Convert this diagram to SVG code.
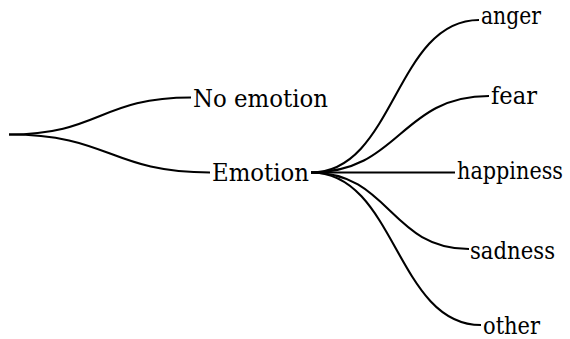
<svg xmlns="http://www.w3.org/2000/svg" width="570" height="339" viewBox="0 0 570 339">
<style>
text{font-family:'DejaVu Serif',serif;font-size:24px;fill:#000}
.e{fill:none;stroke:#000;stroke-width:2.1;stroke-linecap:butt}
</style>
<rect width="570" height="339" fill="#fff"/>
<g id="connectors">
<path class="e" d="M9,134.5 C100,134.5 100,97.5 191,97.5"/>
<path class="e" d="M9,134.5 C110,134.5 110,172.5 210,172.5"/>
<path class="e" d="M311,172.5 C395,172.5 395,20 479,20"/>
<path class="e" d="M311,172.5 C400,172.5 400,96 489,96"/>
<path class="e" d="M311,172.5 L455,172.5"/>
<path class="e" d="M311,172.5 C390,172.5 390,249 469,249"/>
<path class="e" d="M311,172.5 C396,172.5 396,325 481,325"/>
</g>
<g id="no-emotion"><text x="193" y="107" textLength="135" lengthAdjust="spacingAndGlyphs">No emotion</text></g>
<g id="emotion"><text x="212" y="180.5" textLength="97" lengthAdjust="spacingAndGlyphs">Emotion</text></g>
<g id="anger"><text x="481" y="23.5" textLength="60" lengthAdjust="spacingAndGlyphs">anger</text></g>
<g id="fear"><text x="491" y="103.5" textLength="46" lengthAdjust="spacingAndGlyphs">fear</text></g>
<g id="happiness"><text x="457" y="179" font-size="22" textLength="106" lengthAdjust="spacingAndGlyphs">happiness</text></g>
<g id="sadness"><text x="470" y="259" textLength="85" lengthAdjust="spacingAndGlyphs">sadness</text></g>
<g id="other"><text x="483" y="334" textLength="57" lengthAdjust="spacingAndGlyphs">other</text></g>
</svg>
